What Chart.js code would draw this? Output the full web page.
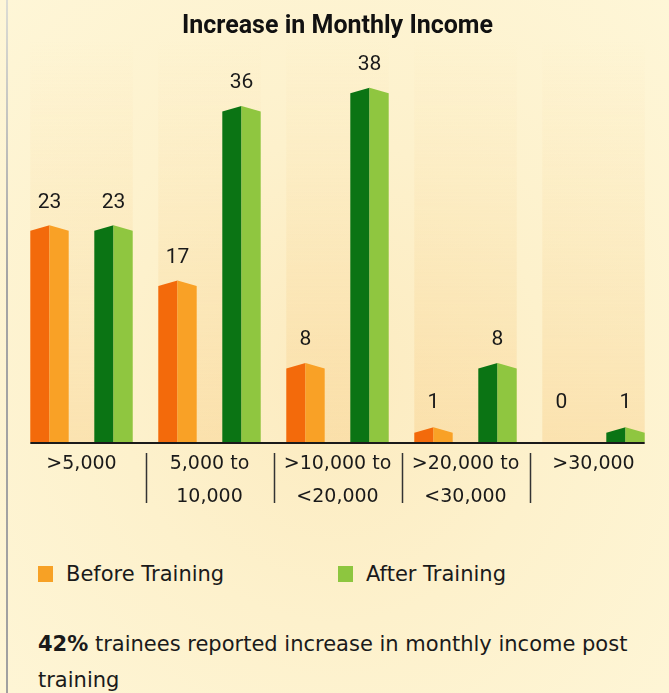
<!DOCTYPE html>
<html lang="en">
<head>
    <meta charset="UTF-8">
    <title>Increase in Monthly Income</title>
    <script src="https://cdn.jsdelivr.net/npm/chart.js"></script>
    <style>
        html, body {
            margin: 0;
            width: 669px;
            height: 693px;
            overflow: hidden;
        }
        body {
            position: relative;
            background: radial-gradient(ellipse at 50% 55%, #fcebc0 0%, #fdf1cc 45%, #fef6d7 100%);
            font-family: "DejaVu Sans", sans-serif;
            color: #1a1a1a;
        }
        .edge {
            position: absolute; left: 6px; top: 0; width: 2px; height: 693px;
            background: linear-gradient(#dcdcd4, #a4a4a4 40%, #a0a0a0);
        }
        .chart-box { position: absolute; left: 0; top: 0; width: 669px; height: 540px; }
        .legend { position: absolute; top: 562px; left: 38px; font-size: 21px; }
        .legend span.item { position: absolute; white-space: nowrap; line-height: 24px; }
        .legend i { display: inline-block; width: 15px; height: 16px; vertical-align: -1px; margin-right: 13px; }
        .note { position: absolute; left: 38px; top: 626px; width: 600px; font-size: 21px; line-height: 36px; }
    </style>
</head>
<body>
    <div class="edge"></div>
    <div class="chart-box"><canvas id="incomeChart"></canvas></div>
    <div class="legend">
        <span class="item" style="left:0"><i style="background:#f7a125"></i>Before Training</span>
        <span class="item" style="left:300px"><i style="background:#8dc63f"></i>After Training</span>
    </div>
    <div class="note"><b>42%</b> trainees reported increase in monthly income post training</div>
    <script>
        const categories = [['>5,000'], ['5,000 to', '10,000'], ['>10,000 to', '<20,000'], ['>20,000 to', '<30,000'], ['>30,000']];
        const beforeTraining = [23, 17, 8, 1, 0];
        const afterTraining = [23, 36, 38, 8, 1];

        // dark / light halves for each series
        const shades = [
            { dark: '#f36a0b', light: '#f9a126' },
            { dark: '#0b7414', light: '#8fc640' }
        ];

        // soft bands behind each group of bars
        const bandsPlugin = {
            id: 'bands',
            beforeDatasetsDraw(chart) {
                const ctx = chart.ctx;
                const a = chart.getDatasetMeta(0).data;
                const b = chart.getDatasetMeta(1).data;
                const base = chart.scales.y.getPixelForValue(0);
                const g = ctx.createLinearGradient(0, 40, 0, base);
                g.addColorStop(0, 'rgba(250,220,160,0)');
                g.addColorStop(1, 'rgba(248,208,140,0.45)');
                ctx.save();
                ctx.fillStyle = g;
                a.forEach((el, i) => {
                    const l = el.x - el.width / 2;
                    const r = b[i].x + b[i].width / 2;
                    ctx.fillRect(l, 40, r - l, base - 40);
                });
                ctx.restore();
            }
        };

        // two-tone bars with a small roof, labels, baseline and separators
        const barsPlugin = {
            id: 'bars3d',
            afterDatasetsDraw(chart) {
                const ctx = chart.ctx;
                const yScale = chart.scales.y;
                const xScale = chart.scales.x;
                const base = yScale.getPixelForValue(0);
                ctx.save();
                chart.data.datasets.forEach((ds, d) => {
                    chart.getDatasetMeta(d).data.forEach((el, i) => {
                        const { x, y, width } = el.getProps(['x', 'y', 'width'], true);
                        const l = x - width / 2, r = x + width / 2;
                        const v = ds.data[i];
                        if (v > 0) {
                            const peak = y - 5.5;
                            ctx.fillStyle = shades[d].dark;
                            ctx.beginPath();
                            ctx.moveTo(l, base); ctx.lineTo(l, y); ctx.lineTo(x, peak); ctx.lineTo(x, base);
                            ctx.closePath(); ctx.fill();
                            ctx.fillStyle = shades[d].light;
                            ctx.beginPath();
                            ctx.moveTo(x, base); ctx.lineTo(x, peak); ctx.lineTo(r, y); ctx.lineTo(r, base);
                            ctx.closePath(); ctx.fill();
                        }
                        ctx.fillStyle = '#1a1a1a';
                        ctx.font = '21px Roboto';
                        ctx.textAlign = 'center';
                        ctx.textBaseline = 'middle';
                        const top = Math.min(y - 5.5, base - 16);
                        ctx.fillText(String(v), x, top - 23);
                    });
                });

                // baseline under the bars
                const first = chart.getDatasetMeta(0).data[0];
                const last = chart.getDatasetMeta(1).data[categories.length - 1];
                ctx.strokeStyle = '#1a1a1a';
                ctx.lineWidth = 2;
                ctx.beginPath();
                ctx.moveTo(first.x - first.width / 2, base + 1);
                ctx.lineTo(last.x + last.width / 2, base + 1);
                ctx.stroke();

                // separators between category labels
                ctx.lineWidth = 1.5;
                ctx.strokeStyle = '#333';
                for (let i = 0; i < categories.length - 1; i++) {
                    const sx = Math.round((xScale.getPixelForTick(i) + xScale.getPixelForTick(i + 1)) / 2) + 0.5;
                    ctx.beginPath();
                    ctx.moveTo(sx, base + 11);
                    ctx.lineTo(sx, base + 61);
                    ctx.stroke();
                }
                ctx.restore();
            }
        };

        const ctx = document.getElementById('incomeChart').getContext('2d');
        const incomeChart = new Chart(ctx, {
            type: 'bar',
            data: {
                labels: categories,
                datasets: [
                    { label: 'Before Training', data: beforeTraining, backgroundColor: 'rgba(0,0,0,0)' },
                    { label: 'After Training', data: afterTraining, backgroundColor: 'rgba(0,0,0,0)' }
                ]
            },
            options: {
                responsive: true,
                maintainAspectRatio: false,
                animation: false,
                categoryPercentage: 1,
                barPercentage: 0.6,
                layout: { padding: { left: 17.5, right: 11.5, top: 0, bottom: 20 } },
                scales: {
                    x: {
                        grid: { display: false, drawTicks: false },
                        border: { display: false },
                        ticks: {
                            padding: 6,
                            maxRotation: 0,
                            autoSkip: false,
                            color: '#1a1a1a',
                            font: { family: 'DejaVu Sans', size: 19, lineHeight: 1.737 }
                        }
                    },
                    y: {
                        display: false,
                        min: 0,
                        max: 40
                    }
                },
                plugins: {
                    legend: { display: false },
                    tooltip: { enabled: false },
                    title: {
                        display: true,
                        text: 'Increase in Monthly Income',
                        color: '#111',
                        font: { family: 'Roboto', size: 25, weight: 'bold', lineHeight: 1.2 },
                        padding: { top: 12.1, bottom: 32.7 }
                    }
                }
            },
            plugins: [bandsPlugin, barsPlugin]
        });
    </script>
</body>
</html>
